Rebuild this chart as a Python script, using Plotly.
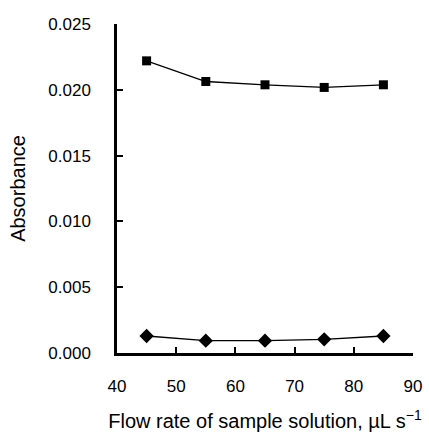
import plotly.graph_objects as go

flow_rate = [45, 55, 65, 75, 85]
series_square = [0.0222, 0.02063, 0.02038, 0.02018, 0.02038]
series_diamond = [0.00129, 0.00094, 0.00094, 0.00104, 0.00129]
x_ticks = [40, 50, 60, 70, 80, 90]
y_ticks = [0.0, 0.005, 0.010, 0.015, 0.020, 0.025]
y_tick_text = ["0.000", "0.005", "0.010", "0.015", "0.020", "0.025"]

fig = go.Figure()
fig.add_trace(go.Scatter(x=flow_rate, y=series_square, mode="lines+markers",
                         line=dict(color="black", width=1.3),
                         marker=dict(symbol="square", size=9, color="black"),
                         showlegend=False, cliponaxis=False))
fig.add_trace(go.Scatter(x=flow_rate, y=series_diamond, mode="lines+markers",
                         line=dict(color="black", width=1.3),
                         marker=dict(symbol="diamond", size=11, color="black"),
                         showlegend=False, cliponaxis=False))

font = dict(family="Liberation Sans, Arial, sans-serif", color="black")
fig.update_layout(
    width=429, height=432,
    margin=dict(l=117, r=16, t=24, b=79),
    plot_bgcolor="white", paper_bgcolor="white",
    font=font,
    xaxis=dict(range=[40, 90], tickvals=x_ticks, ticks="inside", ticklen=6, tickwidth=2,
               tickcolor="black", showline=True, linecolor="black", linewidth=2.5,
               showgrid=False, zeroline=False, tickfont=dict(size=17, **font),
               ticklabelstandoff=16, automargin=False, ticklabeloverflow="allow",
               title=dict(text="Flow rate of sample solution, µL s<sup>−1</sup>",
                          font=dict(size=20, **font), standoff=28)),
    yaxis=dict(range=[0, 0.025], tickvals=y_ticks, ticktext=y_tick_text, ticks="inside",
               ticklen=6, tickwidth=2, tickcolor="black", showline=True, linecolor="black",
               linewidth=2.5, showgrid=False, zeroline=False, automargin=False,
               tickfont=dict(size=17, **font), ticklabelstandoff=20,
               title=dict(text="Absorbance", font=dict(size=20, **font), standoff=18)),
)
fig.write_html("out.html", config={"displayModeBar": False},
               post_script="document.body.style.margin='0';document.body.style.overflow='hidden';")
